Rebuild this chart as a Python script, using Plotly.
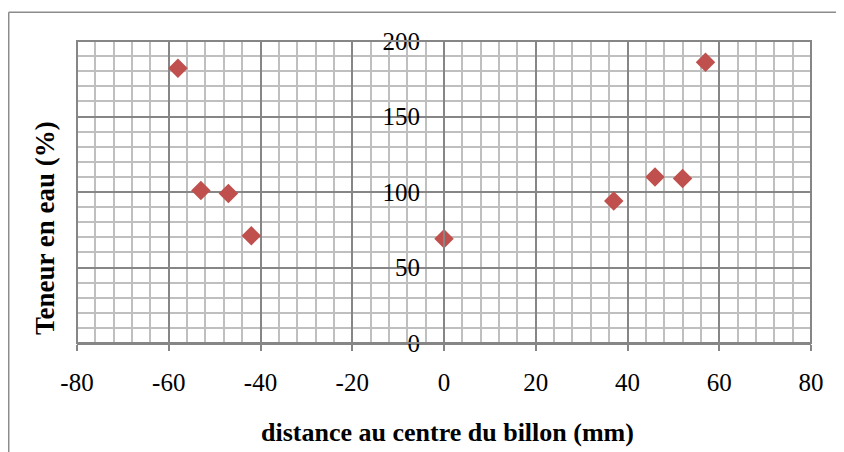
import plotly.graph_objects as go

# Data
distance_mm = [-58, -53, -47, -42, 0, 37, 46, 52, 57]
teneur_eau = [182, 101, 99, 71, 69, 94, 110, 109, 186]

x_ticks = [-80, -60, -40, -20, 0, 20, 40, 60, 80]
x_ticklabels = ["-80", "-60", "-40", "-20", "0", "20", "40", "60", "80"]
y_ticks = [0, 50, 100, 150, 200]
y_ticklabels = ["0", "50", "100", "150", "200"]

x_title = "distance au centre du billon (mm)"
y_title = "Teneur en eau (%)"

MAJOR = "#868686"
MINOR = "#bfbfbf"
FONT = "Liberation Serif"

fig = go.Figure()
fig.add_trace(go.Scatter(
    x=distance_mm, y=teneur_eau, mode="markers",
    marker=dict(symbol="diamond", size=15, color="#C0504D"),
    showlegend=False,
))

fig.update_layout(
    width=844, height=452,
    margin=dict(l=69, r=41, t=33, b=117),
    paper_bgcolor="white", plot_bgcolor="white",
    font=dict(family=FONT, size=25, color="black"),
    xaxis=dict(
        range=[-80, 80], tickvals=x_ticks, ticktext=x_ticklabels,
        showgrid=True, gridcolor=MAJOR, gridwidth=1.5,
        minor=dict(dtick=4, tick0=0, showgrid=True, gridcolor=MINOR, gridwidth=1.5),
        zeroline=False, showline=True, linecolor=MAJOR, linewidth=2,
        ticks="outside", ticklen=6, tickcolor=MAJOR, tickwidth=1.5,
        ticklabelstandoff=10,
    ),
    yaxis=dict(
        range=[0, 200], tickvals=y_ticks, ticktext=y_ticklabels,
        anchor="free", position=0.5,
        showgrid=True, gridcolor=MAJOR, gridwidth=1.5,
        minor=dict(dtick=10, tick0=0, showgrid=True, gridcolor=MINOR, gridwidth=1.5),
        zeroline=False, showline=True, linecolor=MAJOR, linewidth=2,
        ticks="", ticklabelstandoff=18,
    ),
    shapes=[
        dict(type="rect", xref="x domain", yref="y domain", x0=0, x1=1, y0=0, y1=1,
             line=dict(color=MAJOR, width=2), layer="above"),
        dict(type="line", xref="paper", yref="paper", x0=-0.093, x1=-0.093, y0=-0.5, y1=1.095,
             line=dict(color="#8c8c8c", width=1.5)),
        dict(type="line", xref="paper", yref="paper", x0=-0.093, x1=1.1, y0=1.095, y1=1.095,
             line=dict(color="#8c8c8c", width=1.5)),
    ],
    annotations=[
        dict(text=f"<b>{x_title}</b>", xref="paper", yref="paper", x=0.505, y=-0.298,
             showarrow=False, font=dict(family=FONT, size=26, color="black"),
             xanchor="center", yanchor="middle"),
        dict(text=f"<b>{y_title}</b>", xref="paper", yref="paper", x=-0.0436, y=0.381,
             showarrow=False, textangle=-90, font=dict(family=FONT, size=27, color="black"),
             xanchor="center", yanchor="middle"),
    ],
)

fig.write_html("out.html")
